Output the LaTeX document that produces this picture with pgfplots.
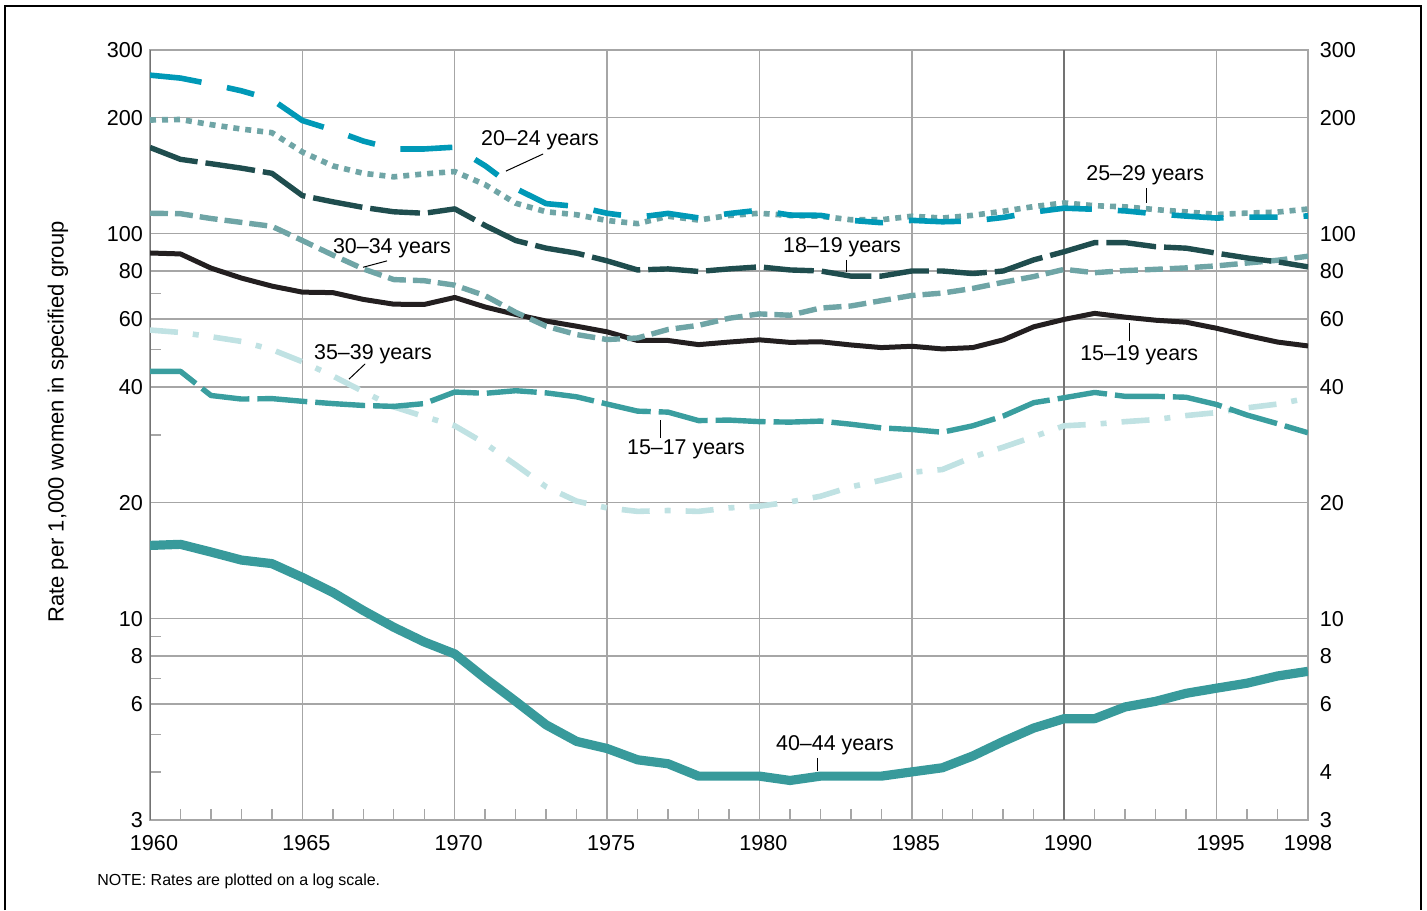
\documentclass[border=0pt]{standalone}
\usepackage{fontspec}
\setmainfont{Liberation Sans}
\usepackage{pgfplots}
\usepackage{pgfplotstable}
\pgfplotsset{compat=1.18}

\definecolor{cTwenty}{RGB}{0,153,183}
\definecolor{cGreyTeal}{RGB}{111,165,166}
\definecolor{cDark}{RGB}{31,77,78}
\definecolor{cBlack}{RGB}{35,31,32}
\definecolor{cPale}{RGB}{192,226,227}
\definecolor{cTeal}{RGB}{58,158,159}
\definecolor{cTealB}{RGB}{56,154,155}
\definecolor{gridgray}{RGB}{166,166,166}
\definecolor{axisgray}{RGB}{115,115,115}

% birth rates per 1,000 women, by age of mother
\pgfplotstableread{
year r1517 r1519 r1819 r2024 r2529 r3034 r3539 r4044
1960 43.9 89.1 167.5 258.1 197.4 113.0 56.2 15.5
1961 43.9 88.6 156.0 253.6 198.0 112.7 55.4 15.6
1962 38.0 81.4 152.0 244.7 192.0 109.5 54.0 14.9
1963 37.2 76.7 148.0 235.0 187.0 107.0 52.5 14.2
1964 37.3 73.1 143.5 223.1 183.0 104.5 50.0 13.9
1965 36.7 70.5 125.6 196.8 163.0 96.0 46.5 12.8
1966 36.2 70.3 121.0 185.9 150.0 88.0 42.7 11.7
1967 35.8 67.5 117.0 174.0 143.5 81.0 38.9 10.5
1968 35.6 65.6 114.0 166.0 140.5 76.0 35.5 9.5
1969 36.2 65.5 113.0 166.0 143.0 75.5 33.5 8.7
1970 38.8 68.3 116.0 167.8 145.0 73.5 31.7 8.1
1971 38.5 64.5 105.0 150.1 134.0 69.0 28.5 7.0
1972 39.1 61.7 96.0 131.0 120.0 62.5 25.1 6.1
1973 38.6 59.3 91.7 119.7 114.0 57.5 22.0 5.3
1974 37.7 57.5 89.0 117.7 112.0 54.7 20.2 4.8
1975 36.1 55.6 85.0 113.0 108.2 53.1 19.4 4.6
1976 34.6 52.8 80.5 110.3 106.2 53.6 19.0 4.3
1977 34.4 52.8 81.0 112.9 111.0 56.4 19.1 4.2
1978 32.7 51.5 79.8 109.9 108.5 57.8 19.0 3.9
1979 32.8 52.3 81.0 112.8 111.5 60.3 19.4 3.9
1980 32.5 53.0 82.0 115.1 113.0 61.9 19.6 3.9
1981 32.4 52.2 80.5 111.8 111.5 61.4 20.1 3.8
1982 32.6 52.4 80.0 111.6 111.0 64.1 20.8 3.9
1983 32.0 51.4 77.6 108.3 108.7 64.9 22.0 3.9
1984 31.3 50.6 77.6 106.8 108.7 67.0 22.9 3.9
1985 31.0 51.0 80.0 108.3 111.0 69.1 24.0 4.0
1986 30.5 50.2 80.0 107.4 109.8 70.1 24.4 4.1
1987 31.7 50.6 78.8 107.9 111.6 72.1 26.3 4.4
1988 33.6 53.0 80.0 110.2 114.4 74.8 27.9 4.8
1989 36.4 57.3 85.5 113.8 117.6 77.4 29.7 5.2
1990 37.5 59.9 89.8 116.5 120.2 80.8 31.7 5.5
1991 38.7 62.1 94.8 115.7 118.2 79.2 32.0 5.5
1992 37.8 60.7 94.8 114.6 117.4 80.2 32.5 5.9
1993 37.8 59.6 92.5 112.6 115.5 80.8 32.9 6.1
1994 37.6 58.9 91.7 111.1 113.9 81.5 33.7 6.4
1995 36.0 56.8 89.0 109.8 112.2 82.5 34.3 6.6
1996 33.8 54.4 86.5 110.4 113.1 83.9 35.3 6.8
1997 32.1 52.3 84.5 110.4 113.8 85.3 36.1 7.1
1998 30.4 51.1 82.0 111.2 115.9 87.4 37.4 7.3
}\rates

\newcommand{\tickfont}{\fontsize{10.8}{12}\selectfont}

\begin{document}
\begin{tikzpicture}
\useasboundingbox (0pt,0pt) rectangle (713.5pt,455pt);
\draw[line width=0.75pt] (2.5pt,0pt) -- (2.5pt,452pt) -- (710.5pt,452pt) -- (710.5pt,0pt);

\begin{axis}[
  at={(75pt,45pt)}, anchor=south west,
  scale only axis, width=579pt, height=385pt,
  ymode=log, xmin=1960, xmax=1998, ymin=3, ymax=300,
  axis line style={draw=gridgray, line width=0.75pt},
  grid=major, major grid style={draw=gridgray, line width=0.65pt},
  tick align=inside,
  xtick={1960,1965,1970,1975,1980,1985,1990,1995,1998},
  xticklabels={1960,1965,1970,1975,1980,1985,1990,1995,\hspace*{-4pt}1998},
  minor xtick={1961,1962,...,1997},
  ytick={3,6,8,10,20,40,60,80,100,200,300},
  yticklabels={3,6,8,10,20,40,60,80,100,200,300},
  minor ytick={4,5,7,9,30,50,70},
  xtick pos=bottom, ytick pos=left,
  major tick length=0pt, minor tick length=5.5pt,
  minor tick style={draw=gridgray, line width=0.7pt},
  tick label style={font=\tickfont, text=black},
  xticklabel style={yshift=-4pt, xshift=2pt},
  clip=true,
]
\draw[axisgray, line width=0.9pt] (axis cs:1990,3) -- (axis cs:1990,300);
\draw[axisgray, line width=1pt] (rel axis cs:0,0) -- (rel axis cs:0,1);

\addplot[cTealB, line width=4.6pt, line join=round] table[x=year,y=r4044] {\rates};
\addplot[cPale, line width=2.8pt, line join=round, dash pattern=on 14pt off 7.5pt on 3pt off 7.5pt] table[x=year,y=r3539] {\rates};
\addplot[cTeal, line width=2.7pt, line join=round, dash pattern=on 25pt off 4pt] table[x=year,y=r1517] {\rates};
\addplot[cBlack, line width=2.5pt, line join=round] table[x=year,y=r1519] {\rates};
\addplot[cGreyTeal, line width=2.7pt, line join=round, dash pattern=on 9pt off 3.5pt] table[x=year,y=r3034] {\rates};
\addplot[cDark, line width=2.7pt, line join=round, dash pattern=on 25pt off 4pt] table[x=year,y=r1819] {\rates};
\addplot[cGreyTeal, line width=2.8pt, line join=round, dash pattern=on 3pt off 3pt] table[x=year,y=r2529] {\rates};
\addplot[cTwenty, line width=2.8pt, line join=round, dash pattern=on 26pt off 13pt on 14pt off 13pt] table[x=year,y=r2024] {\rates};

\begin{scope}[every node/.style={font=\fontsize{10.7}{12}\selectfont, inner sep=0pt}]
\node at (axis cs:1972.80,175.1) {20--24 years};
\draw[line width=0.5pt] (axis cs:1971.68,145.4) -- (axis cs:1972.90,161.1);
\node at (axis cs:1992.66,142.1) {25--29 years};
\draw[line width=0.5pt] (axis cs:1992.71,131.3) -- (axis cs:1992.71,120.2);
\node at (axis cs:1967.94,91.8) {30--34 years};
\draw[line width=0.5pt] (axis cs:1966.99,81.8) -- (axis cs:1967.78,85.0);
\node at (axis cs:1982.71,92.4) {18--19 years};
\draw[line width=0.5pt] (axis cs:1982.84,85.5) -- (axis cs:1982.84,79.6);
\node at (axis cs:1992.46,48.4) {15--19 years};
\draw[line width=0.5pt] (axis cs:1992.13,58.5) -- (axis cs:1992.13,52.6);
\node at (axis cs:1967.32,48.7) {35--39 years};
\draw[line width=0.5pt] (axis cs:1966.53,41.9) -- (axis cs:1967.06,45.9);
\node at (axis cs:1977.59,27.6) {15--17 years};
\draw[line width=0.5pt] (axis cs:1976.74,32.8) -- (axis cs:1976.74,29.5);
\node at (axis cs:1982.48,4.70) {40--44 years};
\draw[line width=0.5pt] (axis cs:1981.89,4.35) -- (axis cs:1981.89,4.02);
\end{scope}
\end{axis}

\begin{axis}[
  at={(75pt,45pt)}, anchor=south west,
  scale only axis, width=579pt, height=385pt,
  ymode=log, xmin=1960, xmax=1998, ymin=3, ymax=300,
  axis x line=none, axis y line*=right,
  y axis line style={draw=none},
  ytick={3,4,6,8,10,20,40,60,80,100,200,300},
  yticklabels={3,4,6,8,10,20,40,60,80,100,200,300},
  minor ytick={},
  major tick length=0pt, minor tick length=0pt,
  tick label style={font=\tickfont, text=black},
  yticklabel style={xshift=2.4pt},
]
\addplot[draw=none] coordinates {(1960,10) (1998,10)};
\end{axis}

\node[rotate=90, font=\fontsize{11}{12}\selectfont] at (29pt,244pt) {Rate per 1,000 women in specified group};
\node[anchor=west, font=\fontsize{8}{10}\selectfont, inner sep=0pt] at (48.5pt,14.5pt) {NOTE: Rates are plotted on a log scale.};
\end{tikzpicture}
\end{document}
